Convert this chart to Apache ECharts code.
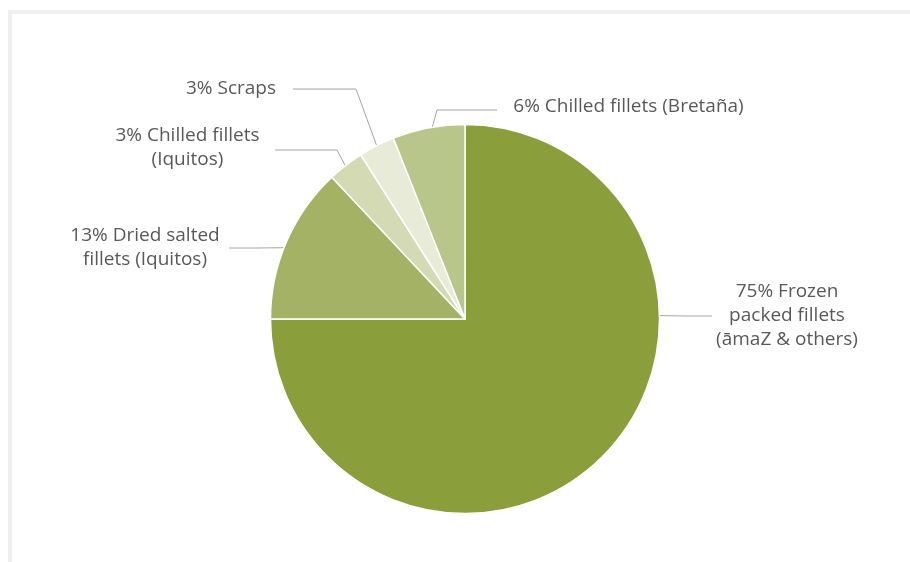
<!DOCTYPE html>
<html>
<head>
<meta charset="utf-8">
<script src="https://cdn.jsdelivr.net/npm/echarts@6/dist/echarts.min.js"></script>
<style>
html,body{margin:0;padding:0;background:#fff;}
#frame{position:absolute;left:8px;top:10px;width:910px;height:560px;border-top:4px solid #efefef;border-left:4px solid #efefef;box-sizing:border-box;}
#chart{position:absolute;left:0;top:0;width:910px;height:562px;}
</style>
</head>
<body>
<div id="frame"></div>
<div id="chart"></div>
<script>
var categories = [
  "75% Frozen\npacked fillets\n(āmaZ & others)",
  "13% Dried salted\nfillets (Iquitos)",
  "3% Chilled fillets\n(Iquitos)",
  "3% Scraps",
  "6% Chilled fillets (Bretaña)"
];
var values = [75, 13, 3, 3, 6];
var colors = ["#8a9e3c", "#a3b264", "#d3dab4", "#e8ebd8", "#b9c68b"];

var CX = 465, CY = 319, R = 194.5;
// label layout: edge angle (deg clockwise from top), elbow, end, label centre
var labelSpots = [
  {angle: 89,    elbow: [686, 316], end: [712, 316], pos: [787, 316]},
  {angle: 291.5, elbow: [256, 248], end: [229, 248], pos: [145, 248]},
  {angle: 322,   elbow: [337, 150], end: [275, 150], pos: [187.5, 148]},
  {angle: 333,   elbow: [356, 89],  end: [293, 89],  pos: [231, 89]},
  {angle: 350.3, elbow: [437, 110], end: [497, 110], pos: [628.5, 107]}
];
function edge(a){
  var r = a * Math.PI / 180;
  return [CX + R * Math.sin(r), CY - R * Math.cos(r)];
}

var data = categories.map(function(c, i){
  return {name: c, value: values[i], itemStyle: {color: colors[i]}};
});

var chart = echarts.init(document.getElementById('chart'));
chart.setOption({
  backgroundColor: 'transparent',
  animation: false,
  series: [{
    type: 'pie',
    center: [CX, CY],
    radius: [0, R],
    startAngle: 90,
    clockwise: true,
    data: data,
    itemStyle: {borderColor: '#ffffff', borderWidth: 1.5},
    label: {
      show: true,
      formatter: '{b}',
      color: '#595959',
      fontFamily: 'Open Sans',
      fontSize: 19,
      lineHeight: 24,
      align: 'center'
    },
    labelLine: {show: true, lineStyle: {color: '#a6a6a6', width: 1}},
    labelLayout: function(p){
      var s = labelSpots[p.dataIndex];
      return {
        x: s.pos[0], y: s.pos[1],
        align: 'center', verticalAlign: 'middle',
        labelLinePoints: [edge(s.angle), s.elbow, s.end]
      };
    },
    emphasis: {disabled: true}
  }]
});
</script>
</body>
</html>
